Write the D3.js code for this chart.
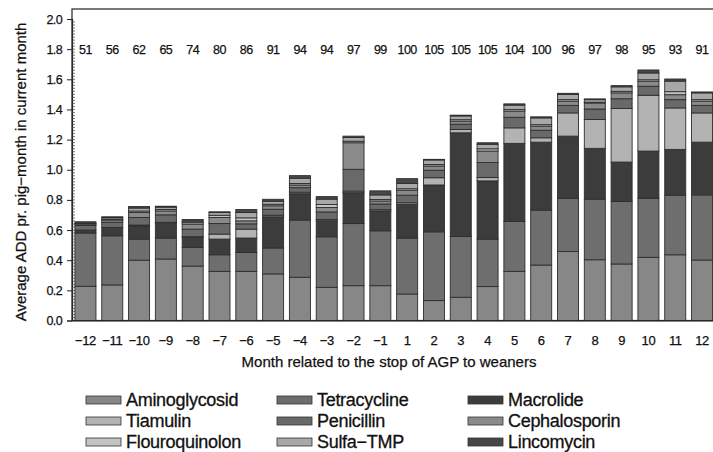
<!DOCTYPE html>
<html>
<head>
<meta charset="utf-8">
<script src="https://cdn.jsdelivr.net/npm/d3@7"></script>
<style>
  html, body { margin: 0; padding: 0; background: #fff; }
  svg { display: block; }
  text { font-family: "Liberation Sans", Arial, Helvetica, sans-serif; fill: #111; }
</style>
</head>
<body>
<svg id="chart" width="713" height="452"></svg>
<script>
// Months relative to the stop of AGP, with number of herds per month
const months = ["-12","-11","-10","-9","-8","-7","-6","-5","-4","-3","-2","-1",
                "1","2","3","4","5","6","7","8","9","10","11","12"];
const herdCounts = [51,56,62,65,74,80,86,91,94,94,97,99,
                    100,105,105,105,104,100,96,97,98,95,93,91];

// Drug classes, in stacking order (bottom to top)
const drugs = ["Aminoglycosid","Tetracycline","Macrolide",
               "Tiamulin","Penicillin","Cephalosporin",
               "Flouroquinolon","Sulfa\u2212TMP","Lincomycin"];

// Average ADD per pig-month for each drug class, one value per month
const aminoglycosid  = [.227,.236,.400,.408,.361,.326,.326,.309,.287,.220,.231,.231,
                        .176,.132,.154,.225,.326,.368,.458,.403,.375,.419,.436,.401];
const tetracycline   = [.353,.326,.140,.139,.124,.110,.125,.172,.379,.335,.412,.364,
                        .371,.456,.403,.315,.331,.364,.351,.402,.414,.392,.395,.432];
const macrolide      = [.020,.055,.088,.099,.066,.104,.096,.207,.175,.107,.205,.132,
                        .224,.311,.688,.386,.518,.451,.414,.337,.262,.313,.304,.350];
const tiamulin       = [.000,.000,.005,.005,.005,.033,.059,.010,.010,.008,.010,.008,
                        .010,.048,.022,.022,.103,.029,.154,.191,.355,.370,.275,.194];
const penicillin     = [.030,.035,.050,.050,.050,.070,.035,.040,.030,.050,.145,.038,
                        .050,.050,.035,.100,.070,.050,.050,.070,.065,.060,.055,.050];
const cephalosporin  = [.010,.015,.033,.026,.033,.040,.020,.023,.018,.030,.176,.020,
                        .033,.028,.020,.076,.041,.027,.028,.040,.039,.033,.033,.028];
const flouroquinolon = [.000,.005,.010,.010,.010,.015,.020,.010,.010,.020,.010,.010,
                        .010,.010,.010,.015,.010,.010,.010,.005,.010,.010,.020,.010];
const sulfaTmp       = [.005,.010,.020,.015,.010,.018,.035,.020,.035,.035,.025,.030,
                        .035,.030,.025,.030,.030,.045,.035,.017,.030,.045,.070,.045];
const lincomycin     = [.010,.006,.010,.006,.011,.005,.020,.013,.017,.017,.009,.027,
                        .032,.004,.005,.010,.008,.007,.007,.005,.008,.020,.014,.006];

const yTicks = [0,0.2,0.4,0.6,0.8,1.0,1.2,1.4,1.6,1.8,2.0];

const seriesValues = [aminoglycosid, tetracycline, macrolide, tiamulin, penicillin,
                      cephalosporin, flouroquinolon, sulfaTmp, lincomycin];
const fills = ["#878787","#6e6e6e","#3c3c3c","#b3b3b3","#696969",
               "#8a8a8a","#c4c4c4","#a8a8a8","#474747"];

// Table of rows for d3.stack
const table = months.map((m, i) => {
  const row = { month: m };
  drugs.forEach((d, k) => { row[d] = seriesValues[k][i]; });
  return row;
});

const svg = d3.select("#chart");
const left = 72, right = 715.5, bottom = 320.5, frameTop = 9;

const x = d3.scaleBand().domain(months).range([left, right])
  .paddingInner(0.216).paddingOuter(0.11);
const y = d3.scaleLinear().domain([0, 2.0]).range([bottom, 19]);

// Plot frame
svg.append("rect")
  .attr("x", left).attr("y", frameTop)
  .attr("width", 760 - left).attr("height", bottom - frameTop)
  .attr("fill", "none").attr("stroke", "#222").attr("stroke-width", 1.2);

// Stacked bars
const stacked = d3.stack().keys(drugs)(table);
const layers = svg.append("g").selectAll("g").data(stacked).join("g")
  .attr("fill", (d, k) => fills[k]);
layers.selectAll("rect").data(d => d).join("rect")
  .attr("x", d => x(d.data.month))
  .attr("width", x.bandwidth())
  .attr("y", d => y(d[1]))
  .attr("height", d => Math.max(0, y(d[0]) - y(d[1])))
  .attr("stroke", "#2e2e2e").attr("stroke-width", 0.9);

// Herd counts above bars
svg.append("g").selectAll("text").data(months).join("text")
  .attr("x", d => x(d) + x.bandwidth() / 2)
  .attr("y", y(1.8))
  .attr("dy", "0.36em")
  .attr("text-anchor", "middle")
  .attr("font-size", 12.5)
  .attr("letter-spacing", -0.5)
  .attr("stroke", "#111").attr("stroke-width", 0.25)
  .text((d, i) => herdCounts[i]);

// Y axis
const yAxis = svg.append("g").attr("transform", `translate(${left},0)`)
  .call(d3.axisLeft(y).tickValues(yTicks).tickFormat(d3.format(".1f")).tickSize(5).tickPadding(5));
yAxis.select(".domain").attr("stroke", "#222").attr("stroke-width", 1.2);
yAxis.selectAll(".tick line").attr("stroke", "#222");
yAxis.selectAll(".tick text").attr("font-size", 12.5).attr("font-family", "Liberation Sans, Arial, sans-serif")
  .attr("letter-spacing", -0.6).attr("fill", "#111")
  .attr("stroke", "#111").attr("stroke-width", 0.25);

// Minor y ticks
svg.append("g").selectAll("line").data(d3.range(0, 100).map(i => i * 0.02))
  .join("line")
  .attr("x1", left).attr("x2", left + 3)
  .attr("y1", d => y(d)).attr("y2", d => y(d))
  .attr("stroke", "#444").attr("stroke-width", 0.7);

// X axis
const xAxis = svg.append("g").attr("transform", `translate(0,${bottom})`)
  .call(d3.axisBottom(x).tickSize(0).tickPadding(15)
    .tickFormat(d => d.replace("-", "\u2212")));
xAxis.select(".domain").attr("stroke", "#222").attr("stroke-width", 1.2);
xAxis.selectAll(".tick text").attr("font-size", 13).attr("font-family", "Liberation Sans, Arial, sans-serif")
  .attr("letter-spacing", -0.4).attr("fill", "#111")
  .attr("stroke", "#111").attr("stroke-width", 0.25);

// Axis titles
svg.append("text")
  .attr("x", 389).attr("y", 367)
  .attr("text-anchor", "middle").attr("font-size", 15)
  .attr("stroke", "#111").attr("stroke-width", 0.25)
  .text("Month related to the stop of AGP to weaners");
svg.append("text")
  .attr("transform", "translate(26,172) rotate(-90)")
  .attr("text-anchor", "middle").attr("font-size", 15)
  .attr("stroke", "#111").attr("stroke-width", 0.25)
  .text("Average ADD pr. pig\u2212month in current month");

// Legend, three columns
const legendCols = [86, 277, 468];
const legendRows = [400, 421, 442];
const legend = svg.append("g").selectAll("g").data(drugs).join("g")
  .attr("transform", (d, i) => `translate(${legendCols[i % 3]},${legendRows[Math.floor(i / 3)]})`);
legend.append("rect")
  .attr("x", 0).attr("y", -4).attr("width", 35).attr("height", 8)
  .attr("fill", (d, i) => fills[i]).attr("stroke", "#333").attr("stroke-width", 0.8);
legend.append("text")
  .attr("x", 40).attr("dy", "0.36em").attr("font-size", 18)
  .attr("letter-spacing", -0.3)
  .attr("stroke", "#111").attr("stroke-width", 0.3)
  .text(d => d);
</script>
</body>
</html>
